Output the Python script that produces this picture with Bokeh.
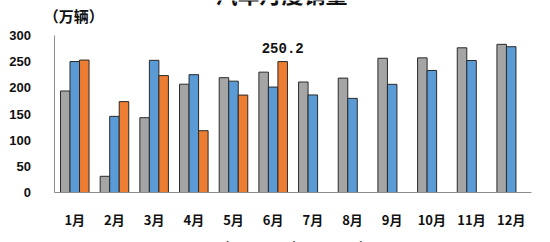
from bokeh.plotting import figure
from bokeh.models import (ColumnDataSource, Range1d, Label, Legend, LegendItem,
                          LinearAxis, FixedTicker)
from bokeh.transform import dodge
from bokeh.core.properties import value
from bokeh.embed import file_html
from bokeh.resources import INLINE

months = ["1月", "2月", "3月", "4月", "5月", "6月", "7月", "8月", "9月", "10月", "11月", "12月"]
sales_2020 = [194.0, 31.0, 143.0, 207.0, 219.4, 230.0, 211.2, 218.6, 256.5, 257.3, 276.5, 283.1]
sales_2021 = [250.3, 145.5, 252.6, 225.2, 212.8, 201.5, 186.4, 179.9, 206.7, 233.2, 252.2, 278.6]
sales_2022 = [253.1, 173.7, 223.4, 118.1, 186.2, 250.2]
years = ["2020年", "2021年", "2022年"]
colors = ["#A5A5A5", "#5B9BD5", "#ED7D31"]
y_ticks = [0, 50, 100, 150, 200, 250, 300]

CJK = "Noto Sans CJK SC"

pos = list(range(1, len(months) + 1))
src_a = ColumnDataSource(dict(x=pos, v2020=sales_2020, v2021=sales_2021))
src_b = ColumnDataSource(dict(x=pos[:len(sales_2022)], v2022=sales_2022))
src_lbl = ColumnDataSource(dict(x=[pos[len(sales_2022) - 1]], v=[sales_2022[-1]],
                                t=[f"{sales_2022[-1]:.1f}"]))

# frame covers the whole canvas; axes are pinned inside it
p = figure(x_range=Range1d(-0.872, 12.99), y_range=Range1d(-95.5, 366.9),
           width=550, height=242, output_backend="svg", toolbar_location=None,
           min_border=0, x_axis_type=None, y_axis_type=None)
p.title.visible = False
p.outline_line_color = None
p.grid.visible = False
p.background_fill_color = "white"
p.border_fill_color = "white"

w = 0.24
r1 = p.vbar(x=dodge("x", -w), top="v2020", width=w, source=src_a,
            fill_color=colors[0], line_color="#2a2a2a", line_width=1)
r2 = p.vbar(x=dodge("x", 0), top="v2021", width=w, source=src_a,
            fill_color=colors[1], line_color="#2a2a2a", line_width=1)
r3 = p.vbar(x=dodge("x", w), top="v2022", width=w, source=src_b,
            fill_color=colors[2], line_color="#2a2a2a", line_width=1)

p.text(x=dodge("x", w), y="v", text="t", source=src_lbl,
       text_align="center", text_baseline="bottom", y_offset=-9,
       text_font=value("Liberation Mono"), text_font_size="14px", text_font_style="bold",
       text_color="#111111")

yaxis = LinearAxis(fixed_location=0.5, bounds=(0, 300), ticker=FixedTicker(ticks=y_ticks))
yaxis.axis_line_color = "#8c8c8c"
yaxis.major_tick_line_color = None
yaxis.minor_tick_line_color = None
yaxis.major_label_standoff = 18
yaxis.major_label_text_font = "Liberation Sans"
yaxis.major_label_text_font_style = "bold"
yaxis.major_label_text_font_size = "13px"
yaxis.major_label_text_color = "#111111"
p.add_layout(yaxis, "left")

xaxis = LinearAxis(fixed_location=0, bounds=(0.5, len(months) + 0.5),
                   ticker=FixedTicker(ticks=pos),
                   major_label_overrides={i: m for i, m in zip(pos, months)})
xaxis.axis_line_color = "#8c8c8c"
xaxis.major_tick_line_color = None
xaxis.minor_tick_line_color = None
xaxis.major_label_standoff = 11
xaxis.major_label_text_font = CJK
xaxis.major_label_text_font_style = "bold"
xaxis.major_label_text_font_size = "13px"
xaxis.major_label_text_color = "#111111"
p.add_layout(xaxis, "below")

p.add_layout(Label(x=6.21, y=351, text="汽车月度销量", text_align="center",
                   text_baseline="bottom", text_font=CJK, text_font_style="bold",
                   text_font_size="22px", text_color="#111111"))
p.add_layout(Label(x=0.22, y=339, text="（万辆）", text_align="left",
                   text_baseline="middle", text_font=CJK, text_font_style="bold",
                   text_font_size="15px", text_color="#111111"))

legend = Legend(items=[LegendItem(label=years[0], renderers=[r1]),
                       LegendItem(label=years[1], renderers=[r2]),
                       LegendItem(label=years[2], renderers=[r3])],
                orientation="horizontal", location=(181, -14),
                glyph_width=8, glyph_height=8, label_standoff=4, spacing=11,
                padding=0, margin=0, border_line_color=None, background_fill_alpha=0,
                label_text_font=CJK, label_text_font_style="bold", label_text_font_size="13px")
p.add_layout(legend, "center")

open("out.html", "w").write(file_html(p, INLINE))
